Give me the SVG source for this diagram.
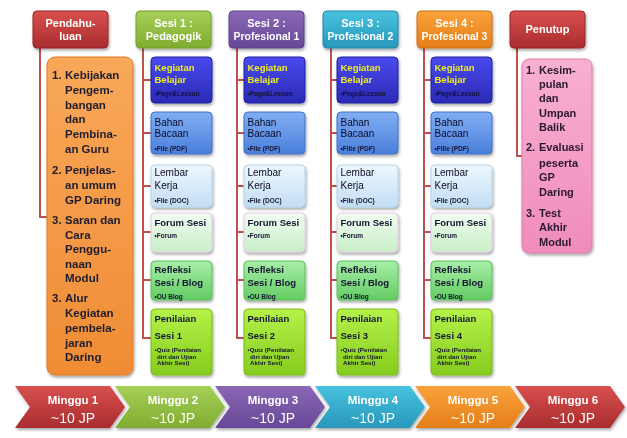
<svg xmlns="http://www.w3.org/2000/svg" width="627" height="438" viewBox="0 0 627 438">
<style>
text{font-family:"Liberation Sans",Arial,sans-serif;}
.ht{font-size:11px;font-weight:bold;fill:#fff;text-anchor:middle;}
.hs{font-size:10.5px;font-weight:bold;fill:#fff;text-anchor:middle;}
.bt{font-size:11.5px;font-weight:bold;fill:#1e1e2e;}
.pt{font-size:11px;font-weight:bold;fill:#2a1830;}
.st{font-size:9.5px;font-weight:bold;fill:#141432;}
.sn{font-size:10px;fill:#0a0a28;}
.ky{fill:#eeee22;}
.bu{font-size:6.5px;font-weight:bold;fill:#141432;}
.bq{font-size:6.2px;font-weight:bold;fill:#141432;}
.cm{font-size:11.5px;font-weight:bold;fill:#fff;text-anchor:middle;}
.cj{font-size:14px;fill:#fff;text-anchor:middle;}
.con{fill:none;stroke:#c0504d;stroke-width:2;}
.box{filter:url(#sh);}
</style>
<defs>
<filter id="sh" x="-20%" y="-20%" width="140%" height="140%"><feDropShadow dx="1" dy="2" stdDeviation="1.5" flood-color="#000" flood-opacity="0.35"/></filter>
<linearGradient id="gRed" x1="0" y1="0" x2="0" y2="1"><stop offset="0" stop-color="#d8504f"/><stop offset="1" stop-color="#aa2c2e"/></linearGradient>
<linearGradient id="gGreen" x1="0" y1="0" x2="0" y2="1"><stop offset="0" stop-color="#a6cf58"/><stop offset="1" stop-color="#7fad30"/></linearGradient>
<linearGradient id="gPurple" x1="0" y1="0" x2="0" y2="1"><stop offset="0" stop-color="#8b68b6"/><stop offset="1" stop-color="#664896"/></linearGradient>
<linearGradient id="gTeal" x1="0" y1="0" x2="0" y2="1"><stop offset="0" stop-color="#48c2de"/><stop offset="1" stop-color="#2898bc"/></linearGradient>
<linearGradient id="gOrange" x1="0" y1="0" x2="0" y2="1"><stop offset="0" stop-color="#faa23c"/><stop offset="1" stop-color="#e57e18"/></linearGradient>
<linearGradient id="gKeg" x1="0" y1="0" x2="0" y2="1"><stop offset="0" stop-color="#4a4af0"/><stop offset="1" stop-color="#2a2ab4"/></linearGradient>
<linearGradient id="gBah" x1="0" y1="0" x2="0" y2="1"><stop offset="0" stop-color="#80aef2"/><stop offset="1" stop-color="#4b7fdc"/></linearGradient>
<linearGradient id="gLem" x1="0" y1="0" x2="0" y2="1"><stop offset="0" stop-color="#eef7fd"/><stop offset="1" stop-color="#c2def4"/></linearGradient>
<linearGradient id="gFor" x1="0" y1="0" x2="0" y2="1"><stop offset="0" stop-color="#f2fdf2"/><stop offset="1" stop-color="#c6efc6"/></linearGradient>
<linearGradient id="gRef" x1="0" y1="0" x2="0" y2="1"><stop offset="0" stop-color="#a8eea8"/><stop offset="1" stop-color="#62cc62"/></linearGradient>
<linearGradient id="gPen" x1="0" y1="0" x2="0" y2="1"><stop offset="0" stop-color="#b4f248"/><stop offset="1" stop-color="#86cc1e"/></linearGradient>
<linearGradient id="gOB" x1="0" y1="0" x2="0" y2="1"><stop offset="0" stop-color="#f9a85a"/><stop offset="1" stop-color="#f08c34"/></linearGradient>
<linearGradient id="gPK" x1="0" y1="0" x2="0" y2="1"><stop offset="0" stop-color="#f8b0d0"/><stop offset="1" stop-color="#f08cbc"/></linearGradient>
</defs>
<rect width="627" height="438" fill="#fff"/>

<g id="connectors">
<path class="con" d="M40,48 V217 H47"/>
<path class="con" d="M143,48 V338 H151 M143,80 H151 M143,133 H151 M143,186 H151 M143,232 H151 M143,280 H151"/>
<path class="con" d="M237,48 V338 H244 M237,80 H244 M237,133 H244 M237,186 H244 M237,232 H244 M237,280 H244"/>
<path class="con" d="M331,48 V338 H337 M331,80 H337 M331,133 H337 M331,186 H337 M331,232 H337 M331,280 H337"/>
<path class="con" d="M424,48 V338 H431 M424,80 H431 M424,133 H431 M424,186 H431 M424,232 H431 M424,280 H431"/>
<path class="con" d="M517,48 V156 H522"/>
</g>

<g id="h-pendahuluan" class="box"><rect x="33" y="11" width="75" height="37" rx="4" fill="url(#gRed)" stroke="#9a2426"/><text class="ht" x="70.5" y="26.5">Pendahu-</text><text class="ht" x="70.5" y="40">luan</text></g>
<g id="h-sesi1" class="box"><rect x="136" y="11" width="75" height="37" rx="4" fill="url(#gGreen)" stroke="#73a02a"/><text class="ht" x="173.5" y="26.5">Sesi 1 :</text><text class="ht" x="173.5" y="40">Pedagogik</text></g>
<g id="h-sesi2" class="box"><rect x="229" y="11" width="75" height="37" rx="4" fill="url(#gPurple)" stroke="#5c4088"/><text class="ht" x="266.5" y="26.5">Sesi 2 :</text><text class="hs" x="266.5" y="40">Profesional 1</text></g>
<g id="h-sesi3" class="box"><rect x="323" y="11" width="75" height="37" rx="4" fill="url(#gTeal)" stroke="#2288ac"/><text class="ht" x="360.5" y="26.5">Sesi 3 :</text><text class="hs" x="360.5" y="40">Profesional 2</text></g>
<g id="h-sesi4" class="box"><rect x="417" y="11" width="75" height="37" rx="4" fill="url(#gOrange)" stroke="#cf7010"/><text class="ht" x="454.5" y="26.5">Sesi 4 :</text><text class="hs" x="454.5" y="40">Profesional 3</text></g>
<g id="h-penutup" class="box"><rect x="510" y="11" width="75" height="37" rx="4" fill="url(#gRed)" stroke="#9a2426"/><text class="ht" x="547.5" y="33">Penutup</text></g>

<g id="pendahuluan-list" class="box"><rect x="47" y="57" width="86" height="318" rx="8" fill="url(#gOB)" stroke="#e07a26"/>
<text class="bt"><tspan x="52" y="79">1.</tspan><tspan x="65" y="79">Kebijakan</tspan><tspan x="65" y="94">Pengem-</tspan><tspan x="65" y="108.5">bangan</tspan><tspan x="65" y="123">dan</tspan><tspan x="65" y="138">Pembina-</tspan><tspan x="65" y="153">an Guru</tspan>
<tspan x="52" y="174">2.</tspan><tspan x="65" y="174">Penjelas-</tspan><tspan x="65" y="189">an umum</tspan><tspan x="65" y="203.5">GP Daring</tspan>
<tspan x="52" y="224">3.</tspan><tspan x="65" y="224">Saran dan</tspan><tspan x="65" y="238.5">Cara</tspan><tspan x="65" y="253">Penggu-</tspan><tspan x="65" y="267.5">naan</tspan><tspan x="65" y="282">Modul</tspan>
<tspan x="52" y="302">3.</tspan><tspan x="65" y="302">Alur</tspan><tspan x="65" y="317">Kegiatan</tspan><tspan x="65" y="332">pembela-</tspan><tspan x="65" y="347">jaran</tspan><tspan x="65" y="361">Daring</tspan></text></g>

<g id="penutup-list" class="box"><rect x="522" y="59" width="70" height="194" rx="7" fill="url(#gPK)" stroke="#e07aae"/>
<text class="pt"><tspan x="526" y="74">1.</tspan><tspan x="539" y="74">Kesim-</tspan><tspan x="539" y="88">pulan</tspan><tspan x="539" y="102">dan</tspan><tspan x="539" y="116.5">Umpan</tspan><tspan x="539" y="131">Balik</tspan>
<tspan x="526" y="151">2.</tspan><tspan x="539" y="151">Evaluasi</tspan><tspan x="539" y="166.5">peserta</tspan><tspan x="539" y="181">GP</tspan><tspan x="539" y="196">Daring</tspan>
<tspan x="526" y="217">3.</tspan><tspan x="539" y="217">Test</tspan><tspan x="539" y="231">Akhir</tspan><tspan x="539" y="246">Modul</tspan></text></g>

<g id="s1-kegiatan" class="box"><rect x="151" y="57" width="61" height="46" rx="4" fill="url(#gKeg)" stroke="#2020a0"/><text class="st ky"><tspan x="154.5" y="70.5">Kegiatan</tspan><tspan x="154.5" y="82.5">Belajar</tspan></text><text class="bu ky" x="154.5" y="96">•Page&amp;Lesson</text></g>
<g id="s1-bahan" class="box"><rect x="151" y="112" width="61" height="42" rx="4" fill="url(#gBah)" stroke="#4070c8"/><text class="sn"><tspan x="154.5" y="125.5">Bahan</tspan><tspan x="154.5" y="137">Bacaan</tspan></text><text class="bu" x="154.5" y="151">•File (PDF)</text></g>
<g id="s1-lembar" class="box"><rect x="151" y="165" width="61" height="42" rx="4" fill="url(#gLem)" stroke="#b4d4ec"/><text class="sn"><tspan x="154.5" y="176">Lembar</tspan><tspan x="154.5" y="189">Kerja</tspan></text><text class="bu" x="154.5" y="202.5">•File (DOC)</text></g>
<g id="s1-forum" class="box"><rect x="151" y="213" width="61" height="39" rx="4" fill="url(#gFor)" stroke="#e8c8e8"/><text class="st" x="154.5" y="225.5">Forum Sesi</text><text class="bu" x="154.5" y="237.5">•Forum</text></g>
<g id="s1-refleksi" class="box"><rect x="151" y="261" width="61" height="39" rx="4" fill="url(#gRef)" stroke="#5cc05c"/><text class="st"><tspan x="154.5" y="273">Refleksi</tspan><tspan x="154.5" y="285.5">Sesi / Blog</tspan></text><text class="bu" x="154.5" y="299">•OU Blog</text></g>
<g id="s1-penilaian" class="box"><rect x="151" y="309" width="61" height="66" rx="4" fill="url(#gPen)" stroke="#7cbc18"/><text class="st"><tspan x="154.5" y="321.5">Penilaian</tspan><tspan x="154.5" y="338.5">Sesi 1</tspan></text><text class="bq"><tspan x="154.5" y="352">•Quiz (Penilaian</tspan><tspan x="157" y="358.5">diri dan Ujian</tspan><tspan x="157" y="365">Akhir Sesi)</tspan></text></g>

<g id="s2-kegiatan" class="box"><rect x="244" y="57" width="61" height="46" rx="4" fill="url(#gKeg)" stroke="#2020a0"/><text class="st ky"><tspan x="247.5" y="70.5">Kegiatan</tspan><tspan x="247.5" y="82.5">Belajar</tspan></text><text class="bu ky" x="247.5" y="96">•Page&amp;Lesson</text></g>
<g id="s2-bahan" class="box"><rect x="244" y="112" width="61" height="42" rx="4" fill="url(#gBah)" stroke="#4070c8"/><text class="sn"><tspan x="247.5" y="125.5">Bahan</tspan><tspan x="247.5" y="137">Bacaan</tspan></text><text class="bu" x="247.5" y="151">•File (PDF)</text></g>
<g id="s2-lembar" class="box"><rect x="244" y="165" width="61" height="42" rx="4" fill="url(#gLem)" stroke="#b4d4ec"/><text class="sn"><tspan x="247.5" y="176">Lembar</tspan><tspan x="247.5" y="189">Kerja</tspan></text><text class="bu" x="247.5" y="202.5">•File (DOC)</text></g>
<g id="s2-forum" class="box"><rect x="244" y="213" width="61" height="39" rx="4" fill="url(#gFor)" stroke="#e8c8e8"/><text class="st" x="247.5" y="225.5">Forum Sesi</text><text class="bu" x="247.5" y="237.5">•Forum</text></g>
<g id="s2-refleksi" class="box"><rect x="244" y="261" width="61" height="39" rx="4" fill="url(#gRef)" stroke="#5cc05c"/><text class="st"><tspan x="247.5" y="273">Refleksi</tspan><tspan x="247.5" y="285.5">Sesi / Blog</tspan></text><text class="bu" x="247.5" y="299">•OU Blog</text></g>
<g id="s2-penilaian" class="box"><rect x="244" y="309" width="61" height="66" rx="4" fill="url(#gPen)" stroke="#7cbc18"/><text class="st"><tspan x="247.5" y="321.5">Penilaian</tspan><tspan x="247.5" y="338.5">Sesi 2</tspan></text><text class="bq"><tspan x="247.5" y="352">•Quiz (Penilaian</tspan><tspan x="250" y="358.5">diri dan Ujian</tspan><tspan x="250" y="365">Akhir Sesi)</tspan></text></g>

<g id="s3-kegiatan" class="box"><rect x="337" y="57" width="61" height="46" rx="4" fill="url(#gKeg)" stroke="#2020a0"/><text class="st ky"><tspan x="340.5" y="70.5">Kegiatan</tspan><tspan x="340.5" y="82.5">Belajar</tspan></text><text class="bu ky" x="340.5" y="96">•Page&amp;Lesson</text></g>
<g id="s3-bahan" class="box"><rect x="337" y="112" width="61" height="42" rx="4" fill="url(#gBah)" stroke="#4070c8"/><text class="sn"><tspan x="340.5" y="125.5">Bahan</tspan><tspan x="340.5" y="137">Bacaan</tspan></text><text class="bu" x="340.5" y="151">•Fille (PDF)</text></g>
<g id="s3-lembar" class="box"><rect x="337" y="165" width="61" height="42" rx="4" fill="url(#gLem)" stroke="#b4d4ec"/><text class="sn"><tspan x="340.5" y="176">Lembar</tspan><tspan x="340.5" y="189">Kerja</tspan></text><text class="bu" x="340.5" y="202.5">•File (DOC)</text></g>
<g id="s3-forum" class="box"><rect x="337" y="213" width="61" height="39" rx="4" fill="url(#gFor)" stroke="#e8c8e8"/><text class="st" x="340.5" y="225.5">Forum Sesi</text><text class="bu" x="340.5" y="237.5">•Forum</text></g>
<g id="s3-refleksi" class="box"><rect x="337" y="261" width="61" height="39" rx="4" fill="url(#gRef)" stroke="#5cc05c"/><text class="st"><tspan x="340.5" y="273">Refleksi</tspan><tspan x="340.5" y="285.5">Sesi / Blog</tspan></text><text class="bu" x="340.5" y="299">•OU Blog</text></g>
<g id="s3-penilaian" class="box"><rect x="337" y="309" width="61" height="66" rx="4" fill="url(#gPen)" stroke="#7cbc18"/><text class="st"><tspan x="340.5" y="321.5">Penilaian</tspan><tspan x="340.5" y="338.5">Sesi 3</tspan></text><text class="bq"><tspan x="340.5" y="352">•Quiz (Penilaian</tspan><tspan x="343" y="358.5">diri dan Ujian</tspan><tspan x="343" y="365">Akhir Sesi)</tspan></text></g>

<g id="s4-kegiatan" class="box"><rect x="431" y="57" width="61" height="46" rx="4" fill="url(#gKeg)" stroke="#2020a0"/><text class="st ky"><tspan x="434.5" y="70.5">Kegiatan</tspan><tspan x="434.5" y="82.5">Belajar</tspan></text><text class="bu ky" x="434.5" y="96">•Page&amp;Lesson</text></g>
<g id="s4-bahan" class="box"><rect x="431" y="112" width="61" height="42" rx="4" fill="url(#gBah)" stroke="#4070c8"/><text class="sn"><tspan x="434.5" y="125.5">Bahan</tspan><tspan x="434.5" y="137">Bacaan</tspan></text><text class="bu" x="434.5" y="151">•Fille (PDF)</text></g>
<g id="s4-lembar" class="box"><rect x="431" y="165" width="61" height="42" rx="4" fill="url(#gLem)" stroke="#b4d4ec"/><text class="sn"><tspan x="434.5" y="176">Lembar</tspan><tspan x="434.5" y="189">Kerja</tspan></text><text class="bu" x="434.5" y="202.5">•File (DOC)</text></g>
<g id="s4-forum" class="box"><rect x="431" y="213" width="61" height="39" rx="4" fill="url(#gFor)" stroke="#e8c8e8"/><text class="st" x="434.5" y="225.5">Forum Sesi</text><text class="bu" x="434.5" y="237.5">•Forum</text></g>
<g id="s4-refleksi" class="box"><rect x="431" y="261" width="61" height="39" rx="4" fill="url(#gRef)" stroke="#5cc05c"/><text class="st"><tspan x="434.5" y="273">Refleksi</tspan><tspan x="434.5" y="285.5">Sesi / Blog</tspan></text><text class="bu" x="434.5" y="299">•OU Blog</text></g>
<g id="s4-penilaian" class="box"><rect x="431" y="309" width="61" height="66" rx="4" fill="url(#gPen)" stroke="#7cbc18"/><text class="st"><tspan x="434.5" y="321.5">Penilaian</tspan><tspan x="434.5" y="338.5">Sesi 4</tspan></text><text class="bq"><tspan x="434.5" y="352">•Quiz (Penilaian</tspan><tspan x="437" y="358.5">diri dan Ujian</tspan><tspan x="437" y="365">Akhir Sesi)</tspan></text></g>

<g id="w1" class="box"><polygon points="15,386 110,386 125,407 110,428 15,428 30,407" fill="url(#gRed)"/><text class="cm" x="73" y="404">Minggu 1</text><text class="cj" x="73" y="423">~10 JP</text></g>
<g id="w2" class="box"><polygon points="115,386 210,386 225,407 210,428 115,428 130,407" fill="url(#gGreen)"/><text class="cm" x="173" y="404">Minggu 2</text><text class="cj" x="173" y="423">~10 JP</text></g>
<g id="w3" class="box"><polygon points="215,386 310,386 325,407 310,428 215,428 230,407" fill="url(#gPurple)"/><text class="cm" x="273" y="404">Minggu 3</text><text class="cj" x="273" y="423">~10 JP</text></g>
<g id="w4" class="box"><polygon points="315,386 410,386 425,407 410,428 315,428 330,407" fill="url(#gTeal)"/><text class="cm" x="373" y="404">Minggu 4</text><text class="cj" x="373" y="423">~10 JP</text></g>
<g id="w5" class="box"><polygon points="415,386 510,386 525,407 510,428 415,428 430,407" fill="url(#gOrange)"/><text class="cm" x="473" y="404">Minggu 5</text><text class="cj" x="473" y="423">~10 JP</text></g>
<g id="w6" class="box"><polygon points="515,386 610,386 625,407 610,428 515,428 530,407" fill="url(#gRed)"/><text class="cm" x="573" y="404">Minggu 6</text><text class="cj" x="573" y="423">~10 JP</text></g>
</svg>
